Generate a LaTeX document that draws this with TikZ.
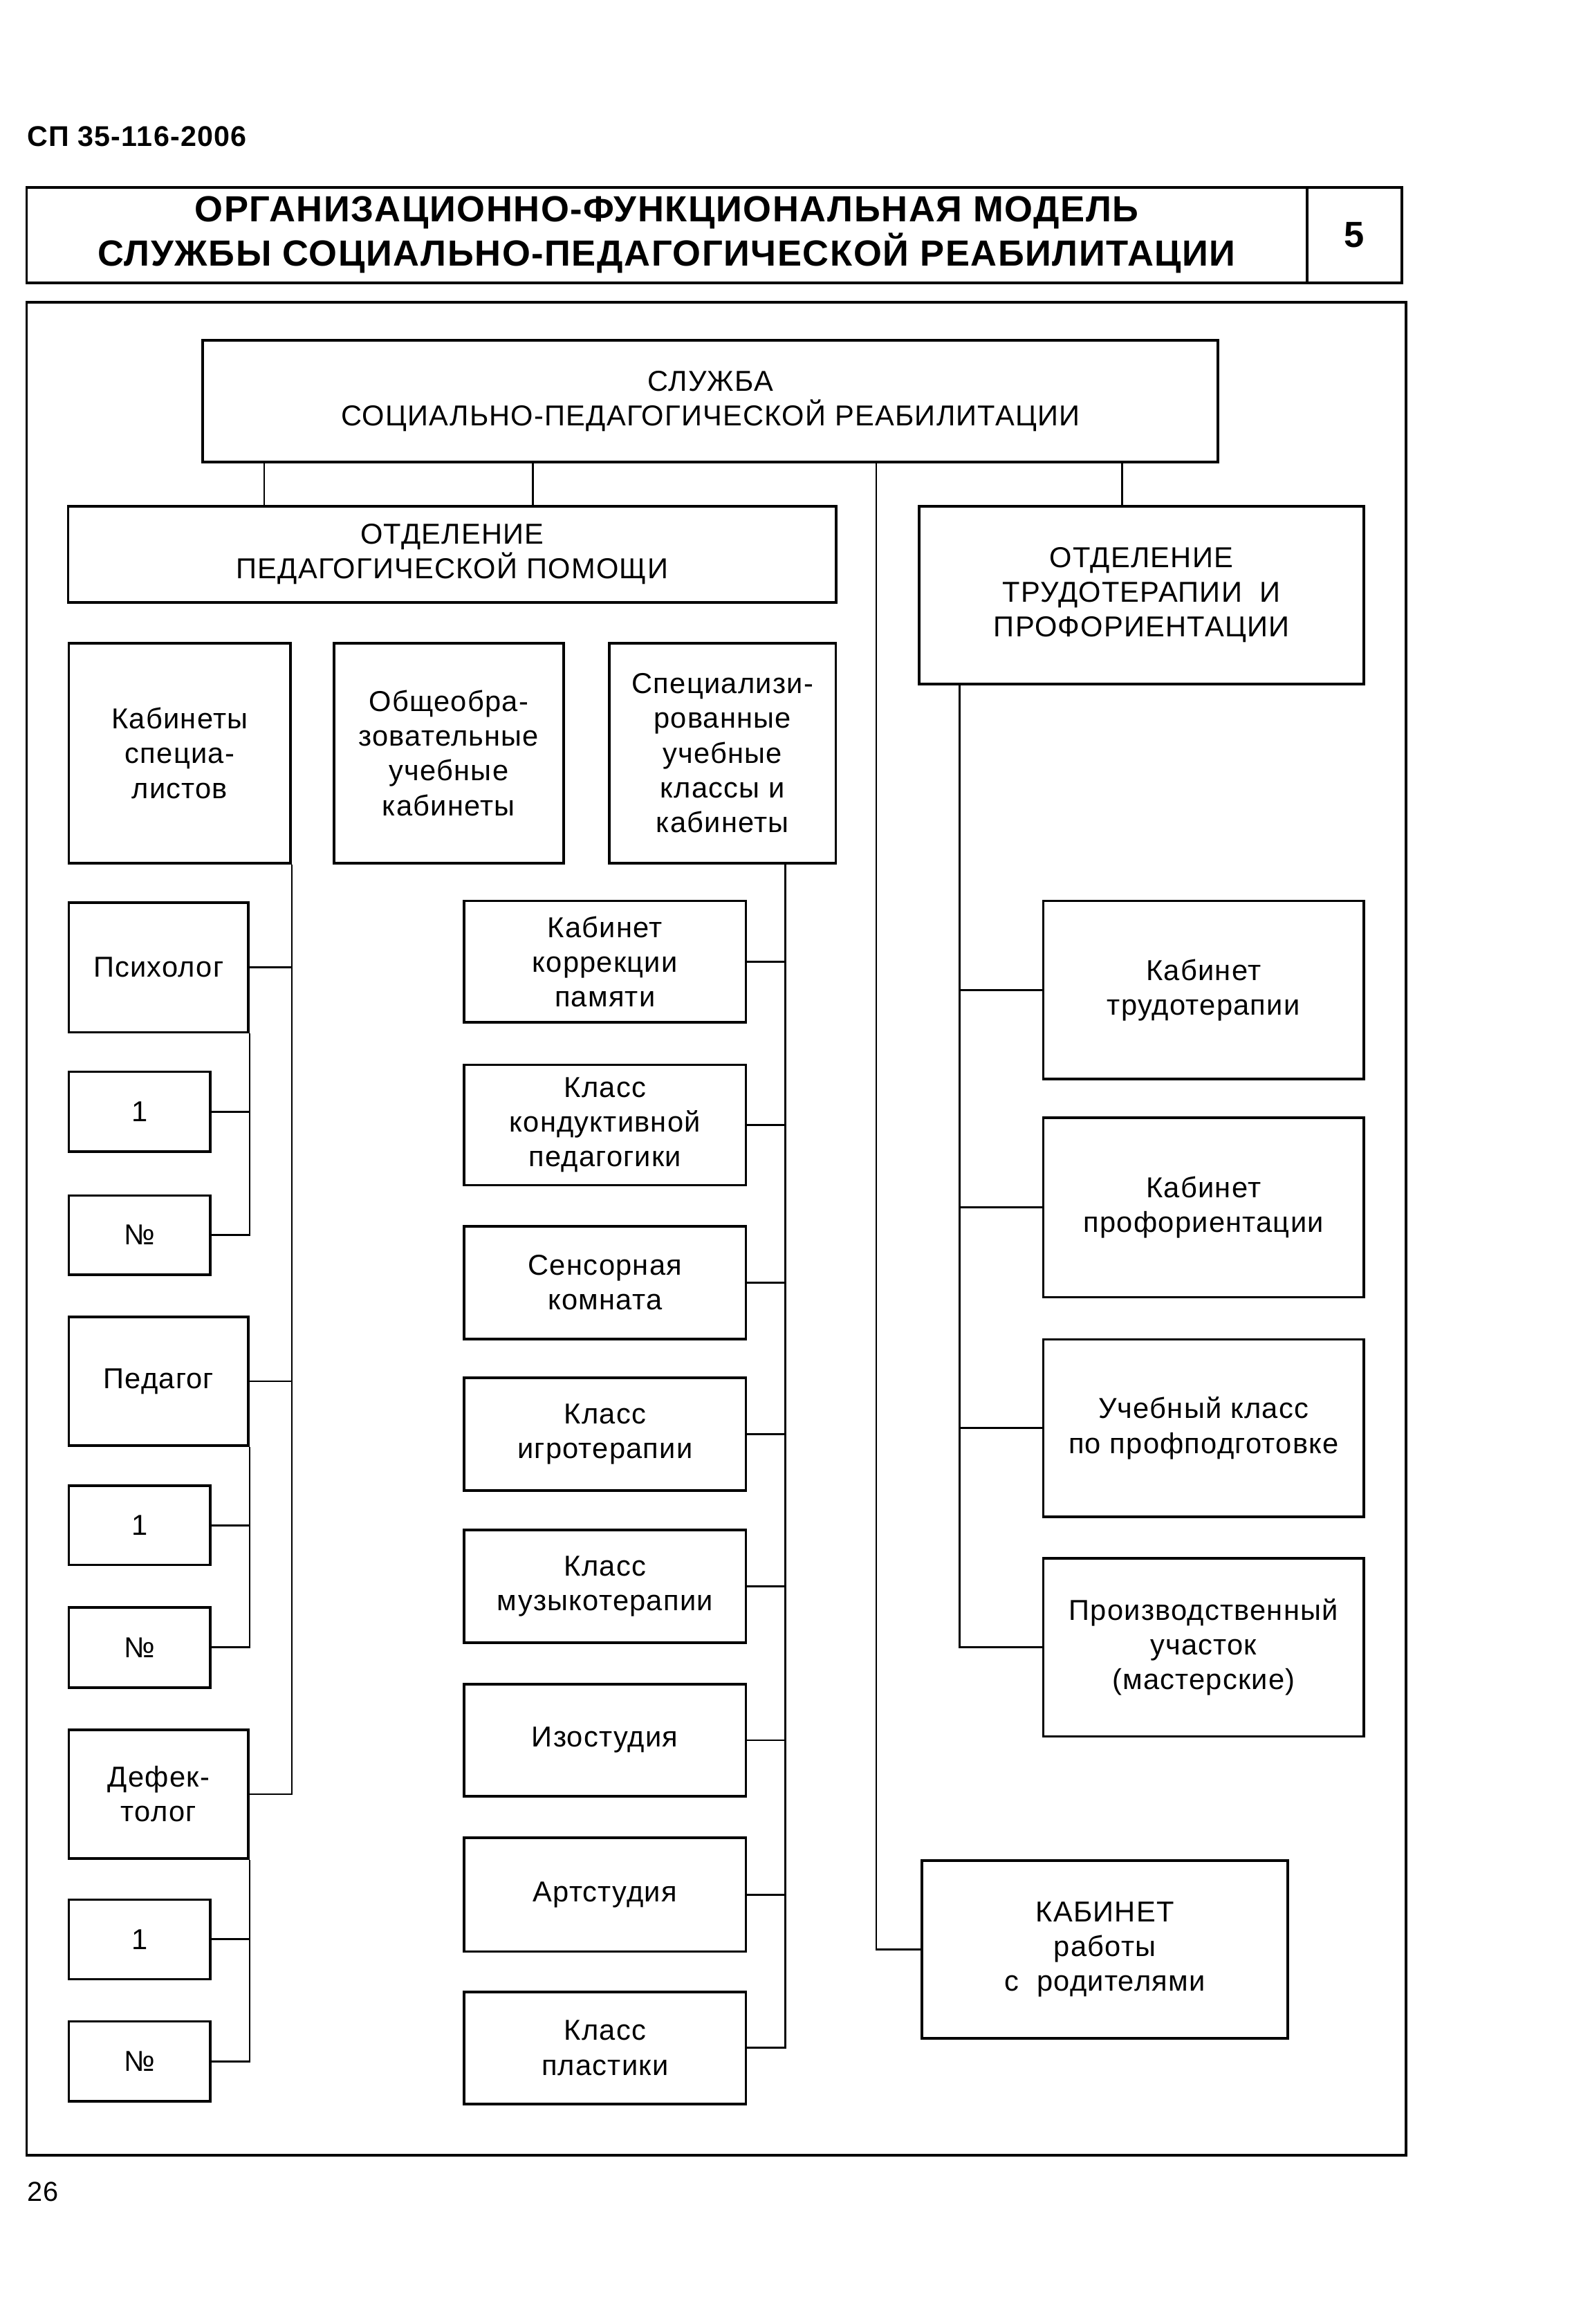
\documentclass[tikz,border=0pt]{standalone}
\usepackage{fontspec}
\setmainfont{Liberation Sans}[LetterSpace=3]
\usetikzlibrary{fit}

\begin{document}
\begin{tikzpicture}[x=0.55pt,y=-0.55pt,
        box/.style={draw,line width=0.95pt,inner sep=0pt,align=center,font=\fontsize{10.7}{12.9}\selectfont},
        cell/.style n args={4}{minimum width={(#3-#1)*0.55pt},minimum height={(#4-#2)*0.55pt},at={({(#1+#3)/2},{(#2+#4)/2})}},
        link/.style={line width=0.75pt}]
    \useasboundingbox (0,0) rectangle (1068,1570);

    \node[anchor=base west,inner sep=0pt,font=\fontsize{10.6}{12}\selectfont\bfseries] (code) at (18,99) {СП 35-116-2006};
    \node[box,cell={18}{126.5}{883}{191},font=\fontsize{13.5}{16.5}\selectfont\bfseries] (title) {ОРГАНИЗАЦИОННО-ФУНКЦИОНАЛЬНАЯ МОДЕЛЬ\\СЛУЖБЫ СОЦИАЛЬНО-ПЕДАГОГИЧЕСКОЙ РЕАБИЛИТАЦИИ};
    \node[box,cell={883}{126.5}{947}{191},font=\fontsize{13.5}{16}\selectfont\bfseries] (num) {5};
    \node[draw,line width=1pt,inner sep=0pt,fit={(18,204) (950,1456)}] (frame) {};
    \node[anchor=base west,inner sep=0pt,font=\fontsize{10.2}{12}\selectfont] (page) at (18,1487) {26};

    \node[box,cell={137}{230}{823}{312}] (svc) {СЛУЖБА\\СОЦИАЛЬНО-ПЕДАГОГИЧЕСКОЙ РЕАБИЛИТАЦИИ};
    \node[box,cell={46}{342}{565}{407}] (peddep) {ОТДЕЛЕНИЕ\\ПЕДАГОГИЧЕСКОЙ ПОМОЩИ};
    \node[box,cell={621}{342}{921.5}{462}] (trdep) {ОТДЕЛЕНИЕ\\ТРУДОТЕРАПИИ\ \ И\\ПРОФОРИЕНТАЦИИ};

    \node[box,cell={46.5}{434.5}{196.3}{583}] (spec) {Кабинеты\\специа-\\листов};
    \node[box,cell={225.7}{434.5}{380.7}{583}] (obsh) {Общеобра-\\зовательные\\учебные\\кабинеты};
    \node[box,cell={411.6}{434.5}{564.7}{583}] (spz) {Специализи-\\рованные\\учебные\\классы\ и\\кабинеты};

    \node[box,cell={46.5}{609.7}{167.8}{697.4}] (psy) {Психолог};
    \node[box,cell={46.5}{724}{142}{778}] (psy1) {1};
    \node[box,cell={46.5}{807.6}{142}{861}] (psyn) {№};
    \node[box,cell={46.5}{889.5}{167.8}{976.7}] (ped) {Педагог};
    \node[box,cell={46.5}{1003.6}{142}{1057.2}] (ped1) {1};
    \node[box,cell={46.5}{1085.8}{142}{1140}] (pedn) {№};
    \node[box,cell={46.5}{1168.5}{167.8}{1255.6}] (def) {Дефек-\\толог};
    \node[box,cell={46.5}{1283.3}{142}{1337}] (def1) {1};
    \node[box,cell={46.5}{1365.6}{142}{1419.4}] (defn) {№};

    \node[box,cell={313.5}{608.6}{504}{690.7}] (kor) {Кабинет\\коррекции\\памяти};
    \node[box,cell={313.5}{719.4}{504}{800.7}] (kond) {Класс\\кондуктивной\\педагогики};
    \node[box,cell={313.5}{828.4}{504}{904.5}] (sens) {Сенсорная\\комната};
    \node[box,cell={313.5}{930.7}{504}{1007}] (igro) {Класс\\игротерапии};
    \node[box,cell={313.5}{1033.6}{504}{1109.8}] (muz) {Класс\\музыкотерапии};
    \node[box,cell={313.5}{1137.7}{504}{1213.5}] (izo) {Изостудия};
    \node[box,cell={313.5}{1241.4}{504}{1318.3}] (art) {Артстудия};
    \node[box,cell={313.5}{1345.6}{504}{1421.4}] (plast) {Класс\\пластики};

    \node[box,cell={704.8}{608.6}{921.5}{729}] (trud) {Кабинет\\трудотерапии};
    \node[box,cell={704.8}{755}{921.5}{876.4}] (prof) {Кабинет\\профориентации};
    \node[box,cell={704.8}{904.8}{921.5}{1024.8}] (ucheb) {Учебный класс\\по профподготовке};
    \node[box,cell={704.8}{1052.6}{921.5}{1173}] (prod) {Производственный\\участок\\(мастерские)};
    \node[box,cell={623}{1257}{870}{1377}] (par) {КАБИНЕТ\\работы\\с\ \ родителями};

    \coordinate (a1) at (178.5,0);
    \coordinate (a2) at (360,0);
    \coordinate (a3) at (592,0);
    \coordinate (a4) at (758,0);
    \coordinate (mx) at (530.5,0);
    \coordinate (rx) at (648.5,0);

    \draw[link] (a1 |- svc.south) -- (a1 |- peddep.north);
    \draw[link] (a2 |- svc.south) -- (a2 |- peddep.north);
    \draw[link] (a4 |- svc.south) -- (a4 |- trdep.north);
    \draw[link] (a3 |- svc.south) |- (par.west);

    \draw[link] (spec.south east) |- (def.east);
    \draw[link] (psy.east) -- (psy.east -| spec.east);
    \draw[link] (ped.east) -- (ped.east -| spec.east);
    \draw[link] (psy.south east) |- (psyn.east);
    \draw[link] (psy1.east) -- (psy1.east -| psy.east);
    \draw[link] (ped.south east) |- (pedn.east);
    \draw[link] (ped1.east) -- (ped1.east -| ped.east);
    \draw[link] (def.south east) |- (defn.east);
    \draw[link] (def1.east) -- (def1.east -| def.east);

    \draw[link] (mx |- spz.south) |- (plast.east);
    \foreach \n in {kor,kond,sens,igro,muz,izo,art}
        \draw[link] (\n.east) -- (\n.east -| mx);

    \draw[link] (rx |- trdep.south) |- (prod.west);
    \foreach \n in {trud,prof,ucheb}
        \draw[link] (\n.west) -- (\n.west -| rx);
\end{tikzpicture}
\end{document}
